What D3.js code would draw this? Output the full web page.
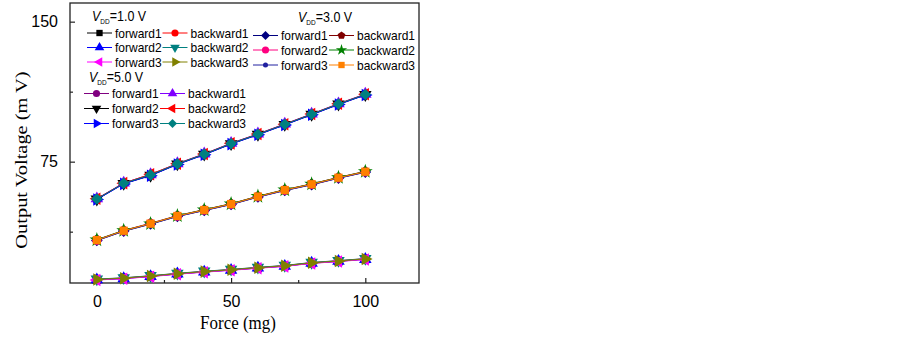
<!DOCTYPE html>
<html>
<head>
<meta charset="utf-8">
<script src="https://cdn.jsdelivr.net/npm/d3@7"></script>
<style>
  body { margin: 0; background: #fff; }
  svg { display: block; }
</style>
</head>
<body>
<div id="chart"></div>
<script>
// data
const forceValues = [0, 10, 20, 30, 40, 50, 60, 70, 80, 90, 100]

// V_DD = 1.0 V
const v1Forward1  = [11.7, 12.5, 13.6, 14.8, 16.0, 17.0, 18.0, 19.1, 20.6, 21.6, 22.8]
const v1Backward1 = [12.0, 12.7, 13.8, 15.1, 16.2, 17.2, 18.3, 19.3, 20.9, 21.9, 23.0]
const v1Forward2  = [11.8, 12.4, 13.5, 14.9, 15.9, 16.9, 18.1, 19.0, 20.7, 21.7, 22.7]
const v1Backward2 = [12.1, 12.8, 13.9, 15.2, 16.3, 17.3, 18.4, 19.4, 21.0, 22.0, 23.1]
const v1Forward3  = [11.6, 12.3, 13.4, 14.7, 15.8, 16.8, 17.9, 18.9, 20.5, 21.5, 22.6]
const v1Backward3 = [11.9, 12.6, 13.7, 15.0, 16.1, 17.1, 18.2, 19.2, 20.8, 21.8, 22.9]

// V_DD = 3.0 V
const v3Forward1  = [32.8, 37.8, 41.6, 45.7, 48.9, 52.1, 56.1, 59.6, 62.7, 66.2, 69.4]
const v3Backward1 = [33.2, 38.2, 42.0, 46.1, 49.3, 52.5, 56.5, 60.0, 63.1, 66.6, 69.8]
const v3Forward2  = [32.9, 37.9, 41.9, 45.8, 49.0, 52.2, 56.2, 59.7, 62.8, 66.3, 69.5]
const v3Backward2 = [33.1, 38.1, 41.7, 46.0, 49.2, 52.4, 56.4, 59.9, 63.0, 66.5, 69.7]
const v3Forward3  = [32.7, 37.7, 41.5, 45.6, 48.8, 52.0, 56.0, 59.5, 62.6, 66.1, 69.3]
const v3Backward3 = [33.0, 38.0, 41.8, 45.9, 49.1, 52.3, 56.3, 59.8, 62.9, 66.4, 69.6]

// V_DD = 5.0 V
const v5Forward1  = [54.8, 63.2, 67.7, 73.6, 78.8, 84.5, 89.5, 94.8, 100.2, 105.7, 110.8]
const v5Backward1 = [55.2, 63.6, 68.1, 74.0, 79.2, 84.9, 89.9, 95.2, 100.6, 106.1, 111.2]
const v5Forward2  = [54.9, 63.3, 67.6, 73.7, 78.9, 84.6, 89.6, 94.9, 100.3, 105.8, 110.9]
const v5Backward2 = [55.1, 63.5, 68.3, 73.9, 79.1, 84.8, 89.8, 95.1, 100.5, 106.0, 111.1]
const v5Forward3  = [54.7, 63.1, 67.5, 73.5, 78.7, 84.4, 89.4, 94.7, 100.1, 105.6, 110.7]
const v5Backward3 = [55.0, 63.4, 67.9, 73.8, 79.0, 84.7, 89.7, 95.0, 100.4, 105.9, 111.0]

const xTickValues = [0, 50, 100]
const xMinorTicks = [25, 75]
const yTickValues = [75, 150]
const yMinorTicks = [37.5, 112.5]

const groupTitles = ["=1.0 V", "=3.0 V", "=5.0 V"]

// marker styles, origin-like
const pentagon = {
  draw(context, size) {
    const r = Math.sqrt(size / 2.378)
    for (let i = 0; i < 5; i++) {
      const a = -Math.PI / 2 + i * 2 * Math.PI / 5
      if (i === 0) context.moveTo(r * Math.cos(a), r * Math.sin(a))
      else context.lineTo(r * Math.cos(a), r * Math.sin(a))
    }
    context.closePath()
  }
}

const seriesGroups = [
  { title: groupTitles[0], series: [
    { name: "forward1",  values: v1Forward1,  color: "#000000", symbol: d3.symbolSquare,   rotate: 0 },
    { name: "backward1", values: v1Backward1, color: "#ff0000", symbol: d3.symbolCircle,   rotate: 0 },
    { name: "forward2",  values: v1Forward2,  color: "#0000ff", symbol: d3.symbolTriangle, rotate: 0 },
    { name: "backward2", values: v1Backward2, color: "#008080", symbol: d3.symbolTriangle, rotate: 180 },
    { name: "forward3",  values: v1Forward3,  color: "#ff00ff", symbol: d3.symbolTriangle, rotate: -90 },
    { name: "backward3", values: v1Backward3, color: "#808000", symbol: d3.symbolTriangle, rotate: 90 },
  ]},
  { title: groupTitles[1], series: [
    { name: "forward1",  values: v3Forward1,  color: "#000080", symbol: d3.symbolSquare,   rotate: 45 },
    { name: "backward1", values: v3Backward1, color: "#800000", symbol: pentagon,          rotate: 0 },
    { name: "forward2",  values: v3Forward2,  color: "#ff0080", symbol: d3.symbolCircle,   rotate: 0 },
    { name: "backward2", values: v3Backward2, color: "#008000", symbol: d3.symbolStar,     rotate: 0 },
    { name: "forward3",  values: v3Forward3,  color: "#2020a0", symbol: d3.symbolCircle,   rotate: 0, small: true },
    { name: "backward3", values: v3Backward3, color: "#ff8000", symbol: d3.symbolSquare,   rotate: 0 },
  ]},
  { title: groupTitles[2], series: [
    { name: "forward1",  values: v5Forward1,  color: "#800080", symbol: d3.symbolCircle,   rotate: 0 },
    { name: "backward1", values: v5Backward1, color: "#8000ff", symbol: d3.symbolTriangle, rotate: 0 },
    { name: "forward2",  values: v5Forward2,  color: "#000000", symbol: d3.symbolTriangle, rotate: 180 },
    { name: "backward2", values: v5Backward2, color: "#ff0000", symbol: d3.symbolTriangle, rotate: -90 },
    { name: "forward3",  values: v5Forward3,  color: "#0000ff", symbol: d3.symbolTriangle, rotate: 90 },
    { name: "backward3", values: v5Backward3, color: "#008080", symbol: d3.symbolSquare,   rotate: 45 },
  ]},
]

function drawChart() {
  const dimensions = {
    width: 903,
    height: 338,
    margin: { top: 3, left: 70 },
    boundedWidth: 349,
    boundedHeight: 280,
  }

  const wrapper = d3.select("#chart")
    .append("svg")
      .attr("width", dimensions.width)
      .attr("height", dimensions.height)

  const bounds = wrapper.append("g")
      .attr("transform", `translate(${dimensions.margin.left},${dimensions.margin.top})`)

  const xScale = d3.scaleLinear()
    .domain([-10, 120])
    .range([0, dimensions.boundedWidth])

  const yScale = d3.scaleLinear()
    .domain([10, 160])
    .range([dimensions.boundedHeight, 0])

  // frame
  bounds.append("rect")
    .attr("width", dimensions.boundedWidth)
    .attr("height", dimensions.boundedHeight)
    .attr("fill", "none")
    .attr("stroke", "#222")
    .attr("stroke-width", 1.3)

  // axes (inward ticks)
  bounds.append("g")
    .attr("transform", `translate(0,${dimensions.boundedHeight})`)
    .call(d3.axisBottom(xScale).tickValues(xTickValues).tickSize(-5).tickPadding(13).tickSizeOuter(0))
  bounds.append("g")
    .attr("transform", `translate(0,${dimensions.boundedHeight})`)
    .call(d3.axisBottom(xScale).tickValues(xMinorTicks).tickSize(-3).tickFormat("").tickSizeOuter(0))

  bounds.append("g")
    .call(d3.axisLeft(yScale).tickValues(yTickValues).tickSize(-5).tickPadding(12).tickSizeOuter(0))
  bounds.append("g")
    .call(d3.axisLeft(yScale).tickValues(yMinorTicks).tickSize(-3).tickFormat("").tickSizeOuter(0))

  bounds.selectAll(".domain").remove()
  bounds.selectAll(".tick line").attr("stroke", "#222").attr("stroke-width", 1.2)
  bounds.selectAll(".tick text")
    .attr("fill", "#000")
    .style("font-family", "'Liberation Sans', Arial, sans-serif")
    .style("font-size", "16px")

  // axis titles
  wrapper.append("text")
    .attr("transform", "translate(238,329) scale(1,1.15)")
    .attr("text-anchor", "middle")
    .style("font-family", "'Liberation Serif', 'Times New Roman', serif")
    .style("font-size", "17px")
    .text("Force (mg)")

  wrapper.append("text")
    .attr("transform", "translate(27,160) rotate(-90) scale(1.2,1)")
    .attr("text-anchor", "middle")
    .style("font-family", "'Liberation Serif', 'Times New Roman', serif")
    .style("font-size", "17px")
    .text("Output Voltage (m V)")

  // lines and markers
  const lineGenerator = d3.line()
    .x((d, i) => xScale(forceValues[i]))
    .y(d => yScale(d))

  const markerPath = (s, big) => d3.symbol()
    .type(s.symbol)
    .size(s.small ? (big ? 34 : 20) : (big ? 68 : 40))()

  const plot = bounds.append("g")
  seriesGroups.forEach(group => {
    group.series.forEach(s => {
      plot.append("path")
        .attr("d", lineGenerator(s.values))
        .attr("fill", "none")
        .attr("stroke", s.color)
        .attr("stroke-width", 1)
      plot.selectAll(null)
        .data(s.values)
        .enter().append("path")
          .attr("d", markerPath(s, true))
          .attr("transform", (d, i) => `translate(${xScale(forceValues[i])},${yScale(d)}) rotate(${s.rotate})`)
          .attr("fill", s.color)
    })
  })

  // legends
  const legendSpots = [
    { x: 87, titleY: 20.5, rows: [33, 47.5, 62], col2: 75.5 },
    { x: 253, titleY: 21.5, rows: [35.5, 50, 65], col2: 76 },
    { x: 84, titleY: 81.5, rows: [93.5, 108.5, 123.5], col2: 76 },
  ]

  seriesGroups.forEach((group, gi) => {
    const spot = legendSpots[gi]
    const legend = wrapper.append("g")
      .style("font-family", "'Liberation Sans', Arial, sans-serif")

    const title = legend.append("text")
      .attr("transform", `translate(${spot.x + 5 + (gi === 1 ? 40 : 0)},${spot.titleY}) scale(1,1.1)`)
      .style("font-size", "12.5px")
    title.append("tspan").style("font-style", "italic").text("V")
    title.append("tspan").attr("dy", 3.5).style("font-size", "6.5px").text("DD")
    title.append("tspan").attr("dy", -3.5).text(group.title)

    group.series.forEach((s, i) => {
      const col = i % 2
      const row = Math.floor(i / 2)
      const lx = spot.x + col * spot.col2
      const ly = spot.rows[row]
      legend.append("line")
        .attr("x1", lx).attr("x2", lx + 25)
        .attr("y1", ly).attr("y2", ly)
        .attr("stroke", s.color)
        .attr("stroke-width", 1)
      legend.append("path")
        .attr("d", markerPath(s, false))
        .attr("transform", `translate(${lx + 12.5},${ly}) rotate(${s.rotate})`)
        .attr("fill", s.color)
      legend.append("text")
        .attr("transform", `translate(${lx + 28},${ly + 4.5}) scale(1,1.1)`)
        .style("font-size", "12px")
        .text(s.name)
    })
  })
}
drawChart()
</script>
</body>
</html>
